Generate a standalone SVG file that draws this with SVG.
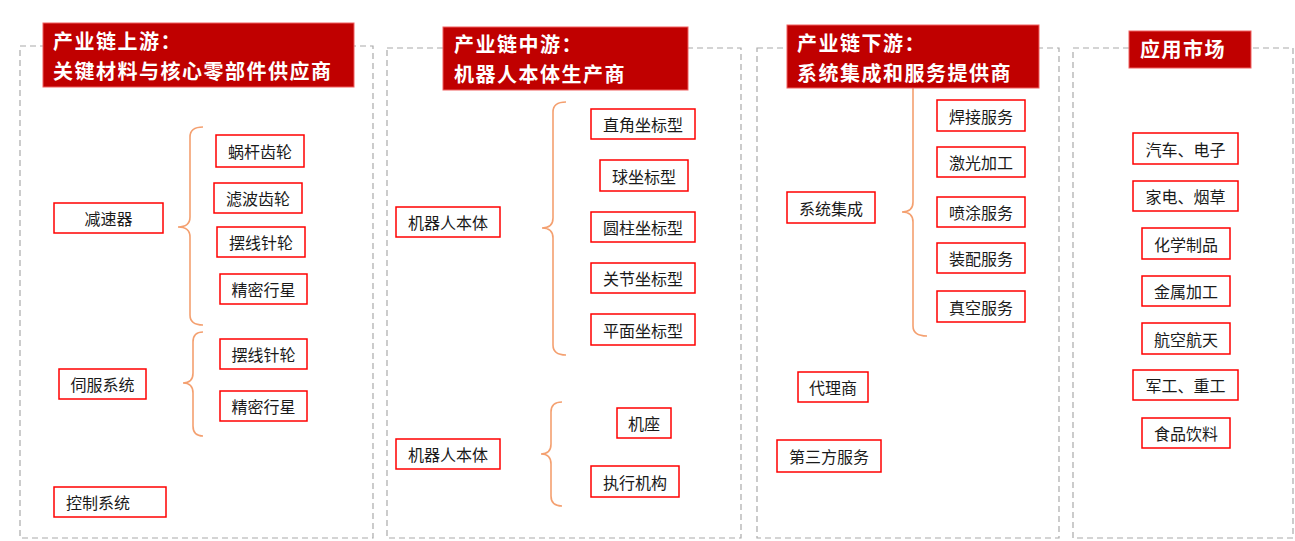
<svg xmlns="http://www.w3.org/2000/svg" width="1295" height="541" viewBox="0 0 1295 541">
<style>
.panel{fill:none;stroke:#aaaaaa;stroke-width:1.2;stroke-dasharray:6 4}
.title rect{fill:#c00000;stroke:#f06060;stroke-width:1}
.title text{fill:#ffffff;font-family:"Noto Sans CJK SC","Noto Sans",sans-serif;font-weight:bold;font-size:20px;letter-spacing:1.5px}
.node rect{fill:#ffffff;stroke:#ff0000;stroke-width:1.5}
.node text{fill:#1a1a1a;font-family:"Noto Sans CJK SC","Noto Sans",sans-serif;font-size:16px;text-anchor:middle;dominant-baseline:central}
.brace{fill:none;stroke:#f4a070;stroke-width:1.6}
</style>
<rect width="1295" height="541" fill="#ffffff"/>
<g id="panels">
<rect class="panel" x="20" y="46" width="353" height="492"/>
<rect class="panel" x="387" y="48" width="354" height="490"/>
<rect class="panel" x="757" y="48" width="302" height="490"/>
<rect class="panel" x="1073" y="48" width="220" height="490"/>
</g>
<g id="connectors">
<path class="brace" d="M203,127 Q190,127 190,137 L190,217 Q190,227 178,227 Q190,227 190,237 L190,315 Q190,325 203,325"/>
<path class="brace" d="M203,332 Q193,332 193,342 L193,373 Q193,383 183,383 Q193,383 193,393 L193,426 Q193,436 203,436"/>
<path class="brace" d="M566,102 Q553,102 553,112 L553,218 Q553,228 542,228 Q553,228 553,238 L553,345 Q553,355 566,355"/>
<path class="brace" d="M562,402 Q551,402 551,412 L551,444 Q551,454 541,454 Q551,454 551,464 L551,496 Q551,506 562,506"/>
<path class="brace" d="M913,88 L913,202 Q913,212 902,212 Q913,212 913,222 L913,326 Q913,336 927,336"/>
</g>
<g id="title1" class="title"><rect x="43" y="23" width="311" height="64"/><text x="53" y="49">产业链上游：</text><text x="53" y="79">关键材料与核心零部件供应商</text></g>
<g id="title2" class="title"><rect x="443" y="27" width="245" height="63"/><text x="454" y="52">产业链中游：</text><text x="454" y="82">机器人本体生产商</text></g>
<g id="title3" class="title"><rect x="787" y="25" width="252" height="63"/><text x="797" y="51">产业链下游：</text><text x="797" y="81">系统集成和服务提供商</text></g>
<g id="title4" class="title"><rect x="1129" y="31" width="122" height="37"/><text x="1140" y="57">应用市场</text></g>

<g id="n-jiansuqi" class="node"><rect x="54" y="203" width="109" height="30"/><text x="108.5" y="218">减速器</text></g>
<g id="n-wogan" class="node"><rect x="216" y="135" width="88" height="32"/><text x="260" y="151">蜗杆齿轮</text></g>
<g id="n-lvbo" class="node"><rect x="214" y="183" width="88" height="30"/><text x="258" y="198">滤波齿轮</text></g>
<g id="n-baixian1" class="node"><rect x="217" y="227" width="88" height="30"/><text x="261" y="242">摆线针轮</text></g>
<g id="n-jingmi1" class="node"><rect x="220" y="274" width="87" height="30"/><text x="263.5" y="289">精密行星</text></g>
<g id="n-sifu" class="node"><rect x="59" y="369" width="87" height="30"/><text x="102.5" y="384">伺服系统</text></g>
<g id="n-baixian2" class="node"><rect x="220" y="339" width="87" height="30"/><text x="263.5" y="354">摆线针轮</text></g>
<g id="n-jingmi2" class="node"><rect x="220" y="391" width="87" height="30"/><text x="263.5" y="406">精密行星</text></g>
<g id="n-kongzhi" class="node"><rect x="54" y="487" width="112" height="30"/><text x="98" y="502">控制系统</text></g>

<g id="n-benti1" class="node"><rect x="396" y="207" width="104" height="30"/><text x="448" y="222">机器人本体</text></g>
<g id="n-zhijiao" class="node"><rect x="591" y="109" width="104" height="30"/><text x="643" y="124">直角坐标型</text></g>
<g id="n-qiu" class="node"><rect x="600" y="160" width="88" height="31"/><text x="644" y="175.5">球坐标型</text></g>
<g id="n-yuanzhu" class="node"><rect x="591" y="212" width="104" height="30"/><text x="643" y="227">圆柱坐标型</text></g>
<g id="n-guanjie" class="node"><rect x="591" y="263" width="104" height="30"/><text x="643" y="278">关节坐标型</text></g>
<g id="n-pingmian" class="node"><rect x="591" y="314" width="104" height="31"/><text x="643" y="329.5">平面坐标型</text></g>
<g id="n-benti2" class="node"><rect x="396" y="439" width="104" height="30"/><text x="448" y="454">机器人本体</text></g>
<g id="n-jizuo" class="node"><rect x="617" y="408" width="54" height="30"/><text x="644" y="423">机座</text></g>
<g id="n-zhixing" class="node"><rect x="591" y="466" width="88" height="31"/><text x="635" y="481.5">执行机构</text></g>

<g id="n-xitong" class="node"><rect x="787" y="192" width="88" height="31"/><text x="831" y="207.5">系统集成</text></g>
<g id="n-hanjie" class="node"><rect x="937" y="100" width="88" height="31"/><text x="981" y="115.5">焊接服务</text></g>
<g id="n-jiguang" class="node"><rect x="937" y="147" width="88" height="30"/><text x="981" y="162">激光加工</text></g>
<g id="n-pentu" class="node"><rect x="937" y="197" width="88" height="30"/><text x="981" y="212">喷涂服务</text></g>
<g id="n-zhuangpei" class="node"><rect x="937" y="243" width="88" height="30"/><text x="981" y="258">装配服务</text></g>
<g id="n-zhenkong" class="node"><rect x="937" y="291" width="88" height="31"/><text x="981" y="306.5">真空服务</text></g>
<g id="n-daili" class="node"><rect x="798" y="372" width="70" height="30"/><text x="833" y="387">代理商</text></g>
<g id="n-disanfang" class="node"><rect x="777" y="440" width="104" height="32"/><text x="829" y="456">第三方服务</text></g>

<g id="n-qiche" class="node"><rect x="1133" y="133" width="105" height="31"/><text x="1185.5" y="148.5">汽车、电子</text></g>
<g id="n-jiadian" class="node"><rect x="1133" y="181" width="105" height="30"/><text x="1185.5" y="196">家电、烟草</text></g>
<g id="n-huaxue" class="node"><rect x="1142" y="228" width="88" height="31"/><text x="1186" y="243.5">化学制品</text></g>
<g id="n-jinshu" class="node"><rect x="1142" y="276" width="88" height="30"/><text x="1186" y="291">金属加工</text></g>
<g id="n-hangkong" class="node"><rect x="1142" y="323" width="88" height="31"/><text x="1186" y="338.5">航空航天</text></g>
<g id="n-jungong" class="node"><rect x="1133" y="370" width="105" height="30"/><text x="1185.5" y="385">军工、重工</text></g>
<g id="n-shipin" class="node"><rect x="1142" y="418" width="88" height="30"/><text x="1186" y="433">食品饮料</text></g>
</svg>
